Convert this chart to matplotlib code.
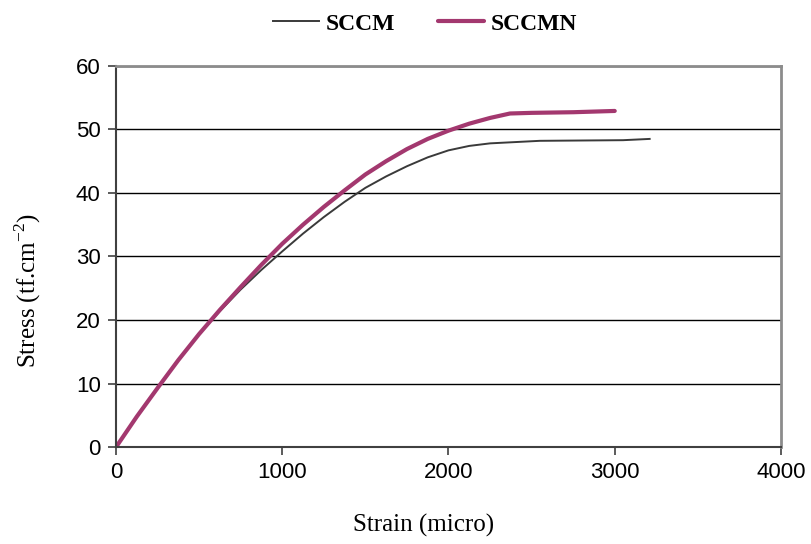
import matplotlib
matplotlib.use("Agg")
import matplotlib.pyplot as plt
from matplotlib.ticker import MultipleLocator

# data (strain in micro, stress in tf/cm2)
sccm_strain = [0, 125, 250, 375, 500, 625, 750, 875, 1000, 1125, 1250, 1375, 1500,
               1625, 1750, 1875, 2000, 2125, 2250, 2400, 2550, 3050, 3210]
sccm_stress = [0, 4.8, 9.3, 13.7, 17.8, 21.4, 24.8, 27.9, 30.8, 33.6, 36.2, 38.6, 40.8,
               42.6, 44.2, 45.6, 46.7, 47.4, 47.8, 48.0, 48.2, 48.3, 48.5]

sccmn_strain = [0, 125, 250, 375, 500, 625, 750, 875, 1000, 1125, 1250, 1375, 1500,
                1625, 1750, 1875, 2000, 2125, 2250, 2370, 2500, 2750, 3000]
sccmn_stress = [0, 4.8, 9.3, 13.7, 17.8, 21.6, 25.2, 28.7, 32.0, 35.0, 37.8, 40.4, 42.9,
                45.0, 46.9, 48.5, 49.8, 50.9, 51.8, 52.5, 52.6, 52.7, 52.9]

series_names = ["SCCM", "SCCMN"]

fig = plt.figure(figsize=(8.11, 5.44), dpi=100)
ax = fig.add_axes([0.143, 0.178, 0.820, 0.701])

ax.plot(sccm_strain, sccm_stress, color="#3a3a3a", lw=1.4, label=series_names[0])
ax.plot(sccmn_strain, sccmn_stress, color="#a3386f", lw=3.0, label=series_names[1],
        solid_capstyle="round")

ax.set_xlim(0, 4000)
ax.set_ylim(0, 60)
ax.xaxis.set_major_locator(MultipleLocator(1000))
ax.yaxis.set_major_locator(MultipleLocator(10))
ax.yaxis.grid(True, color="black", lw=1.0)
ax.set_axisbelow(True)

for side in ["top", "right"]:
    ax.spines[side].set_color("#8c8c8c")
    ax.spines[side].set_linewidth(2)
for side in ["left", "bottom"]:
    ax.spines[side].set_color("#404040")
    ax.spines[side].set_linewidth(1.5)

ax.tick_params(direction="out", length=6, width=1.2, color="#404040",
               labelsize=16, pad=5)
for lab in ax.get_xticklabels() + ax.get_yticklabels():
    lab.set_fontfamily("Liberation Sans")

ax.set_xlabel("Strain (micro)", fontfamily="Liberation Serif", fontsize=18)
ax.set_ylabel("Stress (tf.cm$^{\\mathregular{-2}}$)", fontfamily="Liberation Serif",
              fontsize=18)
# labels in the original sit a bit off centre
ax.xaxis.set_label_coords(0.462, -0.175)
ax.yaxis.set_label_coords(-0.11, 0.41)

leg = fig.legend(loc="upper center", bbox_to_anchor=(0.524, 1.015), ncol=2, frameon=False,
                 prop={"family": "Liberation Serif", "weight": "bold", "size": 17},
                 handlelength=1.95, columnspacing=1.8, handletextpad=0.3)

fig.savefig("out.png", dpi=100)
